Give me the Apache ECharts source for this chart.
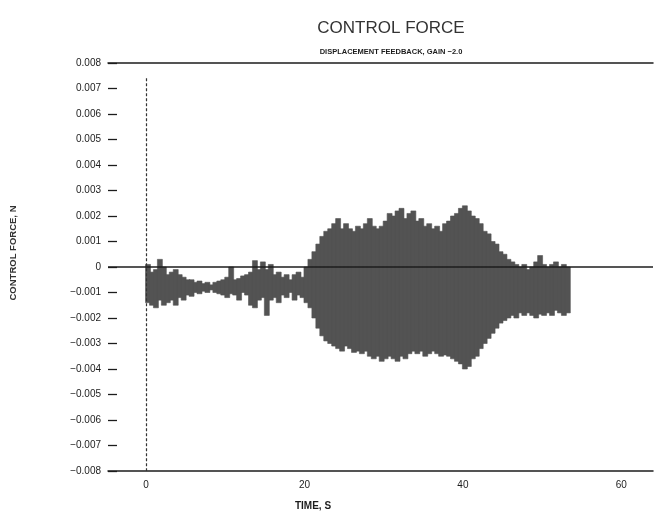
<!DOCTYPE html>
<html>
<head>
<meta charset="utf-8">
<script src="https://cdn.jsdelivr.net/npm/echarts@6/dist/echarts.min.js"></script>
<style>
  html, body { margin: 0; padding: 0; background: #fff; }
  #chart { width: 663px; height: 517px; }
</style>
</head>
<body>
<div id="chart"></div>
<script>
// Control force envelope, sampled every 0.5 s (N)
const sampleStep = 0.5;
const times = [
  0, 0.5, 1, 1.5, 2, 2.5, 3, 3.5, 4, 4.5, 5, 5.5, 6, 6.5, 7, 7.5, 8, 8.5, 9, 9.5,
  10, 10.5, 11, 11.5, 12, 12.5, 13, 13.5, 14, 14.5, 15, 15.5, 16, 16.5, 17, 17.5, 18, 18.5, 19, 19.5,
  20, 20.5, 21, 21.5, 22, 22.5, 23, 23.5, 24, 24.5, 25, 25.5, 26, 26.5, 27, 27.5, 28, 28.5, 29, 29.5,
  30, 30.5, 31, 31.5, 32, 32.5, 33, 33.5, 34, 34.5, 35, 35.5, 36, 36.5, 37, 37.5, 38, 38.5, 39, 39.5,
  40, 40.5, 41, 41.5, 42, 42.5, 43, 43.5, 44, 44.5, 45, 45.5, 46, 46.5, 47, 47.5, 48, 48.5, 49, 49.5,
  50, 50.5, 51, 51.5, 52, 52.5, 53
];
const upperForce = [
  0.0001, -0.0002, -0.0001, 0.0003, 0.0000, -0.0003, -0.0002, -0.0001, -0.0003, -0.0004,
  -0.0005, -0.0005, -0.0006, -0.00055, -0.00065, -0.0006, -0.0007, -0.0006, -0.00055, -0.0005,
  -0.0004, 0.0000, -0.0005, -0.00045, -0.00035, -0.0003, -0.0002, 0.00025, -0.0001, 0.0002,
  -0.0001, 0.0001, -0.0003, -0.0002, -0.0004, -0.0003, -0.0005, -0.0003, -0.0002, -0.0004,
  0.0000, 0.0003, 0.0006, 0.0009, 0.0012, 0.0014, 0.0015, 0.0017, 0.0019, 0.0015,
  0.0017, 0.0015, 0.0014, 0.0016, 0.0015, 0.0017, 0.0019, 0.0016, 0.0015, 0.0016,
  0.0018, 0.0021, 0.0020, 0.0022, 0.0023, 0.0019, 0.0021, 0.0022, 0.0018, 0.0019,
  0.0016, 0.0017, 0.0015, 0.0016, 0.0014, 0.0017, 0.0018, 0.0020, 0.0021, 0.0023,
  0.0024, 0.0022, 0.0020, 0.0019, 0.0017, 0.0014, 0.0013, 0.0010, 0.0009, 0.0006,
  0.0005, 0.0003, 0.0002, 0.0001, 0.0000, 0.0001, -0.0001, 0.0000, 0.0002, 0.00045,
  0.0001, 0.0000, 0.0001, 0.0002, 0.0000, 0.0001, 0.0000
];
const lowerForce = [
  -0.0014, -0.0015, -0.0016, -0.0013, -0.0015, -0.0014, -0.0013, -0.0015, -0.0012, -0.0013,
  -0.0011, -0.00115, -0.0010, -0.00105, -0.00095, -0.0010, -0.0009, -0.0010, -0.00105, -0.0011,
  -0.0012, -0.00105, -0.0011, -0.0013, -0.0010, -0.0011, -0.0015, -0.0016, -0.0013, -0.0012,
  -0.0019, -0.0013, -0.0012, -0.0014, -0.0011, -0.0012, -0.0010, -0.0013, -0.0011, -0.0012,
  -0.0014, -0.0016, -0.0020, -0.0024, -0.0027, -0.0029, -0.0030, -0.0031, -0.0032, -0.0033,
  -0.0031, -0.0032, -0.00335, -0.0033, -0.0034, -0.0033, -0.0035, -0.0036, -0.0035, -0.0037,
  -0.0036, -0.0035, -0.0036, -0.0037, -0.0035, -0.0036, -0.0034, -0.0033, -0.0034, -0.0033,
  -0.0035, -0.0034, -0.0033, -0.0034, -0.0035, -0.00345, -0.0035, -0.0036, -0.0037, -0.0038,
  -0.0040, -0.0039, -0.0036, -0.0035, -0.0032, -0.0030, -0.0028, -0.0026, -0.0024, -0.0022,
  -0.0021, -0.0020, -0.0019, -0.0020, -0.0018, -0.0019, -0.0018, -0.0019, -0.0020, -0.00185,
  -0.0019, -0.0018, -0.0019, -0.0017, -0.0018, -0.0019, -0.0018
];
const xTickLabels = [0, 20, 40, 60];

const bandData = times.map((t, i) => [t, lowerForce[i], upperForce[i]]);

const fontFamily = '"Liberation Sans", Arial, sans-serif';
const ink = '#1c1c1c';
const bandColor = '#535353';

const chart = echarts.init(document.getElementById('chart'), null, { renderer: 'canvas' });

chart.setOption({
  backgroundColor: '#ffffff',
  animation: false,
  title: [
    {
      text: 'CONTROL FORCE',
      left: 386, top: 15, textAlign: 'center',
      textStyle: { fontFamily, fontSize: 17, fontWeight: 'normal', color: '#333' }
    },
    {
      text: 'DISPLACEMENT FEEDBACK, GAIN −2.0',
      left: 386, top: 43, textAlign: 'center',
      textStyle: { fontFamily, fontSize: 7.5, fontWeight: 'bold', color: ink }
    }
  ],
  grid: { left: 107, right: 10, top: 63, bottom: 46 },
  xAxis: [
    {
      type: 'value',
      min: -4.8, max: 64,
      name: 'TIME, S',
      nameLocation: 'middle',
      nameGap: 30,
      nameTextStyle: { fontFamily, fontSize: 10, fontWeight: 'bold', color: ink, padding: [0, 0, 0, -135] },
      axisLine: { show: true, onZero: false, lineStyle: { color: ink, width: 1.5 } },
      axisTick: { show: false },
      splitLine: { show: false },
      axisLabel: {
        customValues: xTickLabels,
        fontFamily, fontSize: 10, color: ink, margin: 9
      }
    },
    {
      type: 'value',
      position: 'top',
      min: -4.8, max: 64,
      axisLine: { show: true, onZero: false, lineStyle: { color: ink, width: 1.5 } },
      axisTick: { show: false },
      axisLabel: { show: false },
      splitLine: { show: false }
    }
  ],
  yAxis: {
    type: 'value',
    min: -0.008, max: 0.008, interval: 0.001,
    name: 'CONTROL FORCE, N',
    nameLocation: 'middle',
    nameRotate: 90,
    nameGap: 90,
    nameTextStyle: { fontFamily, fontSize: 9.5, fontWeight: 'bold', color: '#333', padding: [0, 0, 0, 28] },
    axisLine: { show: false, onZero: false },
    axisTick: { show: true, inside: true, length: 9, lineStyle: { color: ink, width: 1.3 } },
    splitLine: { show: false },
    axisLabel: {
      fontFamily, fontSize: 10, color: ink, margin: 7,
      formatter: v => {
        const r = Math.round(v * 1000);
        if (r === 0) return '0';
        return (r < 0 ? '−' : '') + (Math.abs(r) / 1000).toFixed(3);
      }
    }
  },
  series: [
    {
      // zero reference line
      type: 'line',
      data: [],
      z: 1,
      markLine: {
        silent: true,
        symbol: 'none',
        label: { show: false },
        data: [
          { yAxis: 0, lineStyle: { color: ink, width: 1.5, type: 'solid' } }
        ]
      }
    },
    {
      // force envelope, one block per sample interval
      type: 'custom',
      z: 2,
      data: bandData,
      renderItem: (params, api) => {
        const t = api.value(0);
        const p0 = api.coord([t, api.value(2)]);
        const p1 = api.coord([t + sampleStep, api.value(1)]);
        return {
          type: 'rect',
          shape: { x: p0[0] - 0.5, y: p0[1], width: p1[0] - p0[0] + 1, height: p1[1] - p0[1] },
          style: { fill: bandColor, stroke: bandColor, lineWidth: 0.6 }
        };
      }
    },
    {
      // t = 0 marker
      type: 'line',
      data: [],
      z: 3,
      markLine: {
        silent: true,
        symbol: 'none',
        label: { show: false },
        data: [
          [{ coord: [0, 0.0074] }, { coord: [0, -0.008] }]
        ],
        lineStyle: { color: '#333', width: 1.2, type: [3, 2] }
      }
    }
  ]
});
</script>
</body>
</html>
